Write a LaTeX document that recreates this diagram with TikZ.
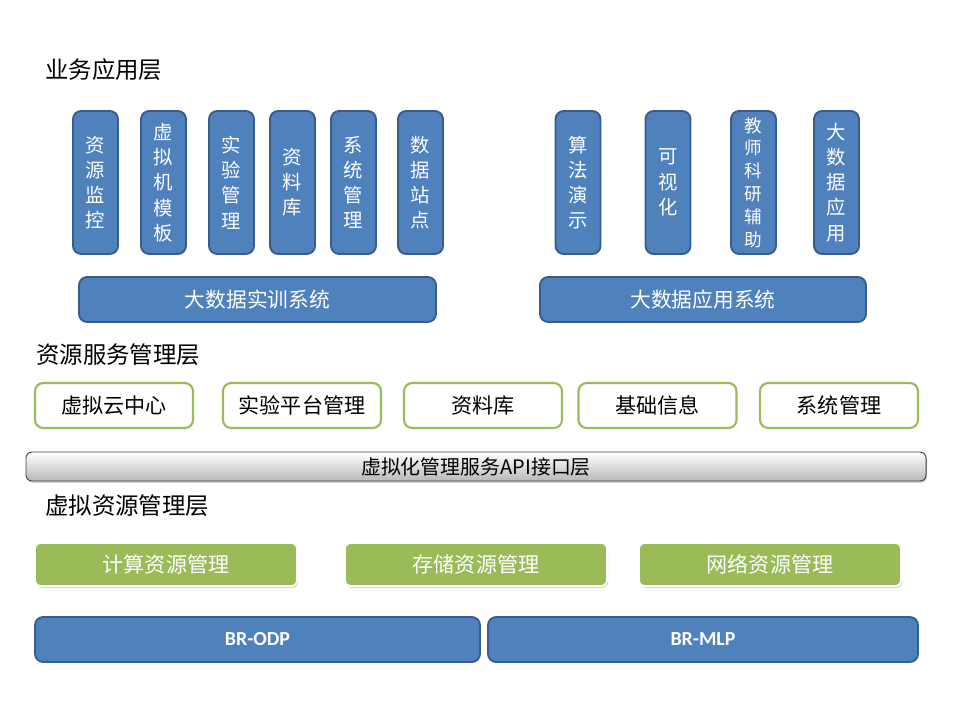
\documentclass[tikz,border=0pt]{standalone}
\usepackage{fontspec}
\newfontfamily\cjk{Noto Sans CJK SC}
\newfontfamily\lat{Carlito}
\usepackage{tikz}
\usetikzlibrary{shadows}

\definecolor{appblue}{HTML}{4F81BD}
\definecolor{appline}{HTML}{385D8A}
\definecolor{resgreen}{HTML}{9BBB59}

\tikzset{
  every node/.append style={font=\cjk},
  layer/.style={anchor=west, inner sep=0pt, font=\cjk\fontsize{20}{23}\selectfont},
  appcol/.style={draw=appline, fill=appblue, line width=1.6pt, rounded corners=7pt,
    minimum width=1.35cm, minimum height=4.29cm, inner sep=0pt, text=white,
    align=center, font=\cjk\fontsize{16.5}{21.5}\selectfont},
  appsys/.style={draw=appline, fill=appblue, line width=1.6pt, rounded corners=7pt,
    minimum height=1.35cm, text=white, font=\cjk\fontsize{17.7}{20}\selectfont},
  svcbox/.style={draw=resgreen, fill=white, line width=1.8pt, rounded corners=7pt,
    minimum width=4.74cm, minimum height=1.35cm, font=\cjk\fontsize{18}{20}\selectfont},
  apibar/.style={draw=black!75, line width=0.8pt, rounded corners=5pt,
    top color=white, bottom color=black!28, minimum width=27cm, minimum height=0.87cm,
    drop shadow={opacity=0.35, shadow xshift=1pt, shadow yshift=-1.5pt},
    font=\cjk\fontsize{17}{19}\selectfont},
  resbox/.style={draw=white, fill=resgreen, line width=1.5pt, rounded corners=5pt,
    minimum width=7.86cm, minimum height=1.29cm, text=white,
    drop shadow={opacity=0.35, shadow xshift=1pt, shadow yshift=-1.5pt},
    font=\cjk\fontsize{18}{20}\selectfont},
  basebox/.style={draw=appline, fill=appblue, line width=1.6pt, rounded corners=7pt,
    minimum height=1.35cm, text=white, font=\lat\bfseries\fontsize{17}{20}\selectfont}
}

\begin{document}
\begin{tikzpicture}[x=0.03cm, y=-0.03cm]
    \useasboundingbox (0,0) rectangle (960,720);

    % business application layer
    \node[layer] (tapp) at (45,70) {业务应用层};
    \node[appcol] (monitor) at (95.5,182.5) {资\\源\\监\\控};
    \node[appcol] (vmtpl) at (163.5,182.5) {虚\\拟\\机\\模\\板};
    \node[appcol] (expmgr) at (231.5,182.5) {实\\验\\管\\理};
    \node[appcol] (docs) at (292.5,182.5) {资\\料\\库};
    \node[appcol] (sysmgr) at (353.5,182.5) {系\\统\\管\\理};
    \node[appcol] (site) at (420.5,182.5) {数\\据\\站\\点};
    \node[appcol] (algo) at (578,182.5) {算\\法\\演\\示};
    \node[appcol] (vis) at (668,182.5) {可\\视\\化};
    \node[appcol, font=\cjk\fontsize{15}{19.5}\selectfont] (teach) at (753.5,182.5) {教\\师\\科\\研\\辅\\助};
    \node[appcol] (bdapp) at (836.5,182.5) {大\\数\\据\\应\\用};
    \node[appsys, minimum width=10.71cm] (train) at (257.5,299.5) {大数据实训系统};
    \node[appsys, minimum width=9.78cm] (appsys) at (703,299.5) {大数据应用系统};

    % resource service layer
    \node[layer] (tsvc) at (36,355) {资源服务管理层};
    \node[svcbox] (cloud) at (114,405.5) {虚拟云中心};
    \node[svcbox] (platform) at (302,405.5) {实验平台管理};
    \node[svcbox] (library) at (483,405.5) {资料库};
    \node[svcbox] (basic) at (657.5,405.5) {基础信息};
    \node[svcbox] (system) at (839,405.5) {系统管理};
    \node[apibar] (api) at (476,466.5) {虚拟化管理服务API接口层};

    % virtual resource layer
    \node[layer] (tres) at (45,506) {虚拟资源管理层};
    \node[resbox] (compute) at (166,564.5) {计算资源管理};
    \node[resbox] (storage) at (476,564.5) {存储资源管理};
    \node[resbox] (network) at (770,564.5) {网络资源管理};
    \node[basebox, minimum width=13.35cm] (odp) at (257.5,639.5) {BR-ODP};
    \node[basebox, minimum width=12.9cm] (mlp) at (703,639.5) {BR-MLP};
\end{tikzpicture}
\end{document}
